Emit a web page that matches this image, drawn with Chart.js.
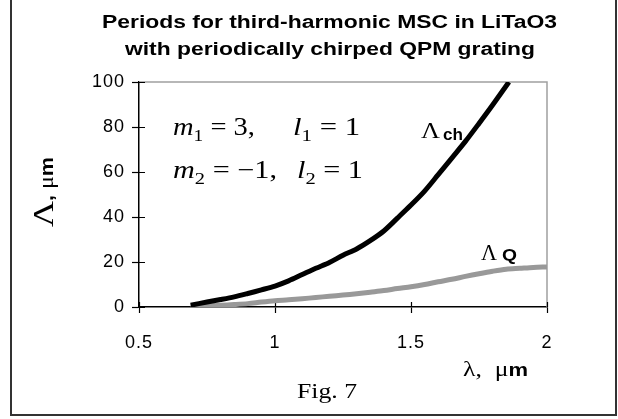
<!DOCTYPE html>
<html>
<head>
<meta charset="utf-8">
<script src="https://cdn.jsdelivr.net/npm/chart.js@4.4.0/dist/chart.umd.min.js"></script>
<style>
  html, body { margin: 0; padding: 0; background: #fff; }
  #wrap { width: 618px; height: 419px; }
</style>
</head>
<body>
<div id="wrap"><canvas id="fig7" width="618" height="419"></canvas></div>
<script>
// wavelength (um) and periods (um)
const chirpX = [0.69, 0.75, 0.8, 0.85, 0.9, 0.95, 1.0, 1.05, 1.1, 1.15, 1.2, 1.25, 1.3, 1.35, 1.4, 1.45, 1.5, 1.55, 1.6, 1.65, 1.7, 1.75, 1.8, 1.86];
const chirpY = [0.8, 2.2, 3.3, 4.5, 6.0, 7.6, 9.3, 11.6, 14.4, 17.2, 19.8, 23.0, 25.8, 29.5, 33.8, 39.5, 45.3, 51.5, 58.8, 66.2, 73.6, 81.6, 89.8, 100];
const qpmX = [0.69, 0.75, 0.8, 0.85, 0.9, 0.95, 1.0, 1.05, 1.1, 1.15, 1.2, 1.25, 1.3, 1.35, 1.4, 1.45, 1.5, 1.55, 1.6, 1.65, 1.7, 1.75, 1.8, 1.85, 1.9, 1.95, 2.0];
const qpmY = [0.4, 0.6, 0.8, 1.1, 1.5, 2.2, 2.8, 3.2, 3.7, 4.2, 4.8, 5.3, 5.9, 6.6, 7.3, 8.2, 9.0, 10.0, 11.2, 12.3, 13.6, 14.8, 15.9, 16.8, 17.2, 17.6, 17.8];
const xTicks = [0.5, 1, 1.5, 2];
const yTicks = [0, 20, 40, 60, 80, 100];

const SANS = 'Arial, "Liberation Sans", sans-serif';
const SERIF = '"Times New Roman", "Liberation Serif", serif';

// draw a row of text runs, stretched horizontally to a given width
function drawRuns(ctx, runs, x, y, width) {
  let total = 0;
  runs.forEach(r => { ctx.font = r.font; r.w = ctx.measureText(r.text).width; total += r.w; });
  const sx = width ? width / total : 1;
  ctx.save();
  ctx.translate(x, y);
  ctx.scale(sx, 1);
  let cx = 0;
  runs.forEach(r => {
    ctx.font = r.font;
    ctx.fillText(r.text, cx, r.dy || 0);
    cx += r.w;
  });
  ctx.restore();
}

const decorations = {
  id: 'decorations',
  beforeDraw(chart) {
    chart.ctx.letterSpacing = '1px';
  },
  beforeDatasetsDraw(chart) {
    const { ctx, chartArea: a } = chart;
    ctx.save();
    ctx.strokeStyle = '#a0a0a0';
    ctx.lineWidth = 1.5;
    ctx.beginPath();
    ctx.moveTo(a.left, a.top);
    ctx.lineTo(a.right, a.top);
    ctx.lineTo(a.right, a.bottom);
    ctx.stroke();
    // inner half of the crossing tick marks
    ctx.strokeStyle = '#000';
    ctx.lineWidth = 1.2;
    const xs = chart.scales.x, ys = chart.scales.y;
    ctx.beginPath();
    yTicks.forEach(v => { const p = Math.round(ys.getPixelForValue(v)) + 0.5; ctx.moveTo(a.left, p); ctx.lineTo(a.left + 6, p); });
    xTicks.forEach(v => { const p = Math.round(xs.getPixelForValue(v)) + 0.5; ctx.moveTo(p, a.bottom); ctx.lineTo(p, a.bottom - 5); });
    ctx.stroke();
    ctx.restore();
  },
  afterDraw(chart) {
    const ctx = chart.ctx;
    ctx.save();
    ctx.letterSpacing = '0px';
    ctx.fillStyle = '#000';
    ctx.textBaseline = 'alphabetic';
    ctx.textAlign = 'left';

    // outer frame
    ctx.strokeStyle = '#333';
    ctx.lineWidth = 2;
    ctx.strokeRect(11, -2, 605, 417);

    // title
    drawRuns(ctx, [{ text: 'Periods for third-harmonic MSC in LiTaO3', font: 'bold 18px ' + SANS }], 102, 28, 455);
    drawRuns(ctx, [{ text: 'with periodically chirped QPM grating', font: 'bold 18px ' + SANS }], 125, 55, 410);

    // parameter annotations
    const it = 'italic 25px ' + SERIF, up = '25px ' + SERIF, sub = '17px ' + SERIF;
    drawRuns(ctx, [{ text: 'm', font: it }, { text: '1', font: sub, dy: 6 }, { text: ' = 3,', font: up }], 173, 135, 82);
    drawRuns(ctx, [{ text: 'l', font: it }, { text: '1', font: sub, dy: 6 }, { text: ' = 1', font: up }], 293, 135, 67);
    drawRuns(ctx, [{ text: 'm', font: it }, { text: '2', font: sub, dy: 6 }, { text: ' = \u22121,', font: up }], 173, 178, 104);
    drawRuns(ctx, [{ text: 'l', font: it }, { text: '2', font: sub, dy: 6 }, { text: ' = 1', font: up }], 297, 178, 66);

    // curve labels
    drawRuns(ctx, [{ text: '\u039B', font: '24px ' + SERIF }], 421, 138, 19);
    drawRuns(ctx, [{ text: 'ch', font: 'bold 16px ' + SANS }], 443, 140, 20);
    drawRuns(ctx, [{ text: '\u039B', font: '24px ' + SERIF }], 481, 260, 16);
    drawRuns(ctx, [{ text: 'Q', font: 'bold 16px ' + SANS }], 502, 261, 15);

    // x axis title
    drawRuns(ctx, [{ text: '\u03BB, ', font: '21px ' + SERIF }, { text: ' \u03BC', font: '21px ' + SERIF }, { text: 'm', font: 'bold 18px ' + SANS }], 463, 376, 65);

    // y axis title (rotated)
    ctx.save();
    ctx.translate(53, 227);
    ctx.rotate(-Math.PI / 2);
    drawRuns(ctx, [{ text: '\u039B', font: '30px ' + SERIF }, { text: ', ', font: 'bold 18px ' + SANS }, { text: '\u03BC', font: '20px ' + SERIF }, { text: 'm', font: 'bold 18px ' + SANS }], 0, 0, 70);
    ctx.restore();

    // figure caption
    drawRuns(ctx, [{ text: 'Fig. 7', font: '22px ' + SERIF }], 297, 398, 60);
    ctx.restore();
  }
};

new Chart(document.getElementById('fig7'), {
  type: 'scatter',
  data: {
    datasets: [
      {
        label: 'Λch',
        data: chirpX.map((x, i) => ({ x, y: chirpY[i] })),
        showLine: true,
        borderColor: '#000',
        borderWidth: 5,
        pointRadius: 0,
        tension: 0.3,
        borderCapStyle: 'butt'
      },
      {
        label: 'ΛQ',
        data: qpmX.map((x, i) => ({ x, y: qpmY[i] })),
        showLine: true,
        borderColor: '#999',
        borderWidth: 5,
        pointRadius: 0,
        tension: 0.3,
        borderCapStyle: 'butt'
      }
    ]
  },
  options: {
    responsive: false,
    animation: false,
    events: [],
    layout: { padding: { left: 0, top: 82, right: 71, bottom: 0 } },
    plugins: { legend: { display: false }, title: { display: false }, tooltip: { enabled: false } },
    scales: {
      x: {
        type: 'linear',
        min: 0.5, max: 2,
        afterFit: s => { s.height = 112; },
        afterBuildTicks: s => { s.ticks = xTicks.map(v => ({ value: v })); },
        ticks: { color: '#000', font: { family: SANS, size: 18 }, padding: 19, maxRotation: 0, callback: v => String(v) },
        grid: { drawOnChartArea: false, tickLength: 6, color: '#000', tickWidth: 1.2 },
        border: { color: '#000', width: 1.5 }
      },
      y: {
        min: 0, max: 100,
        afterFit: s => { s.width = 139; },
        afterBuildTicks: s => { s.ticks = yTicks.map(v => ({ value: v })); },
        ticks: { color: '#000', font: { family: SANS, size: 18 }, padding: 7, callback: v => String(v) },
        grid: { drawOnChartArea: false, tickLength: 7, color: '#000', tickWidth: 1.2 },
        border: { color: '#000', width: 1.5 }
      }
    }
  },
  plugins: [decorations]
});
</script>
</body>
</html>
